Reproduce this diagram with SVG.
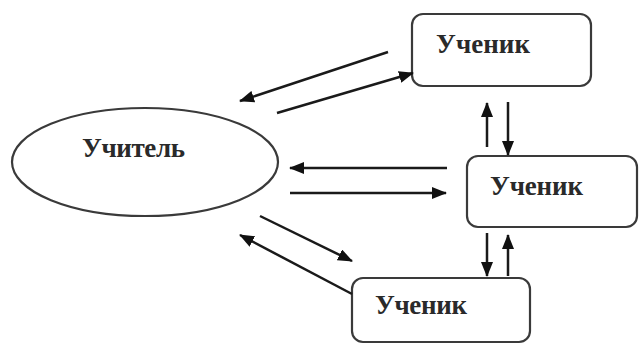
<svg xmlns="http://www.w3.org/2000/svg" width="639" height="344" viewBox="0 0 639 344">
<style>
.n{fill:#fff;stroke:#3a3a3a;stroke-width:2.2}
.t{font-family:"Liberation Serif",serif;font-size:27px;font-weight:bold;fill:#2a2a2a}
.c line{stroke:#1a1a1a;stroke-width:2.5;marker-end:url(#a)}
</style>
<defs>
<marker id="a" markerWidth="15" markerHeight="12" refX="14" refY="6" orient="auto" markerUnits="userSpaceOnUse">
<path d="M0,0 L15,6 L0,12 Z" fill="#111"/>
</marker>
</defs>
<rect width="639" height="344" fill="#fff"/>
<g id="teacher"><ellipse class="n" cx="145" cy="162" rx="133" ry="54"/><text class="t" x="82" y="157" textLength="103">Учитель</text></g>
<g id="student1"><rect class="n" x="412" y="14" width="179" height="72" rx="11"/><text class="t" x="436" y="53" textLength="94">Ученик</text></g>
<g id="student2"><rect class="n" x="467" y="156" width="170" height="71" rx="11"/><text class="t" x="490" y="195" textLength="93">Ученик</text></g>
<g id="student3"><rect class="n" x="352" y="278" width="178" height="64" rx="11"/><text class="t" x="375" y="314" textLength="92">Ученик</text></g>
<g class="c" id="connectors">
<line x1="388" y1="52" x2="240" y2="101"/>
<line x1="277" y1="113" x2="413" y2="73"/>
<line x1="447" y1="168" x2="290" y2="168"/>
<line x1="290" y1="193" x2="446" y2="193"/>
<line x1="260" y1="216" x2="352" y2="261"/>
<line x1="352" y1="294" x2="240" y2="235"/>
<line x1="487" y1="147" x2="487" y2="103"/>
<line x1="508" y1="102" x2="508" y2="155"/>
<line x1="487" y1="233" x2="487" y2="276"/>
<line x1="508" y1="276" x2="508" y2="235"/>
</g>
</svg>
